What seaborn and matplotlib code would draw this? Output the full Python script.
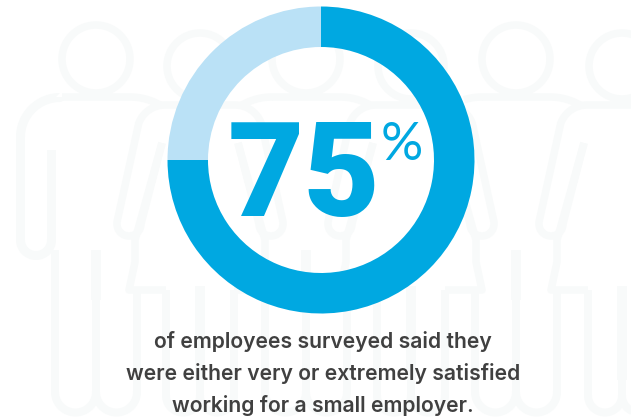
import numpy as np
import seaborn as sns
import matplotlib
matplotlib.use("Agg")
import matplotlib.pyplot as plt

satisfied_share = [75, 25]
ring_colors = ["#00a8e1", "#bae1f6"]
headline = "75"
headline_unit = "%"
caption_lines = [
    "of employees surveyed said they",
    "were either very or extremely satisfied",
    "working for a small employer.",
]
male_x = [96, 306, 516]
female_x = [200, 411, 622]
male_left_shoulder = [None, 32, 18]

WIDTH, HEIGHT = 631, 419
FIGURE_INK = "#f8fafa"
TEXT_INK = "#404040"
FOOT_LINE = 412.5

sns.set_theme(style="white")
fig, ax = plt.subplots(figsize=(WIDTH / 100, HEIGHT / 100), dpi=100)
fig.subplots_adjust(0, 0, 1, 1)


def arc(cx, cy, r, start, stop, n=40):
    t = np.radians(np.linspace(start, stop, n))
    return np.column_stack([cx + r * np.cos(t), cy + r * np.sin(t)])


def stroke(points, lw=7.5):
    pts = np.vstack([np.atleast_2d(p) for p in points])
    ax.plot(pts[:, 0], HEIGHT - pts[:, 1], color=FIGURE_INK,
            lw=lw * 0.72, solid_capstyle="butt", solid_joinstyle="round", zorder=1)


def leg_pair(left, right, top_left, top_right):
    # two leg lines closing in a rounded foot
    r = (right - left) / 2
    stroke([[left, top_left], arc(left + r, FOOT_LINE - r, r, 180, 0), [right, top_right]], lw=8)


def draw_male(x, left_reach):
    stroke([arc(x, 59, 34, 0, 360, 90)])
    # shoulders run from the right arm across to the left one
    right_sweep = np.degrees(np.arcsin(31 / 60))
    stroke([arc(x + 34, 157, 60, -90 + right_sweep, -90), [x - 34, 97]])
    if left_reach is None:
        stroke([[x - 36, 97], arc(x - 36, 137, 39.5, -90, -180),
                [x - 75.5, 240], arc(x - 60, 240, 15.5, 180, 0), [x - 44.5, 150]], lw=9)
        leg_pair(x - 41, x, 250, 250)
    else:
        left_sweep = np.degrees(np.arcsin(left_reach / 60))
        stroke([arc(x - 34, 157, 60, -90, -90 - left_sweep)])
        leg_pair(x - 41, x, 292, 250)
    leg_pair(x, x + 41, 250, 292)
    stroke([[x, 250], [x, 300]], lw=10)


def draw_female(x):
    stroke([arc(x, 66, 33, 0, 360, 90)])
    for side in (-1, 1):
        shoulder = arc(x + side * 35, 133, 28, -90, -90 + side * 70)
        stroke([[x, 105], shoulder, [x + side * 83, 222],
                arc(x + side * 71, 224, 12, 0 if side > 0 else 180, 180 if side > 0 else 0),
                [x + side * 38, 143]])
        stroke([[x + side * 38, 143], [x + side * 65, 240], [x + side * 65, 262],
                [x + side * 71, 290], [x + side * 34, 290]])
    leg_pair(x - 34, x, 290, 286)
    leg_pair(x, x + 34, 286, 290)
    stroke([[x, 286], [x, 380]], lw=10)


for x, left_reach in zip(male_x, male_left_shoulder):
    draw_male(x, left_reach)
for x in female_x:
    draw_female(x)

ax.pie(
    satisfied_share,
    colors=ring_colors,
    startangle=90,
    counterclock=False,
    radius=153.5,
    center=(321, HEIGHT - 160),
    wedgeprops={"width": 40.5, "linewidth": 0},
    frame=False,
)
ax.set_xlim(0, WIDTH)
ax.set_ylim(0, HEIGHT)
ax.set_axis_off()

ax.text(304, HEIGHT - 216, headline, ha="center", va="baseline", color=ring_colors[0],
        family="Roboto", weight="black", fontsize=95, zorder=5)
ax.text(402, HEIGHT - 160, headline_unit, ha="center", va="baseline", color=ring_colors[0],
        family="Lato", weight="regular", fontsize=38, zorder=5)

for line, baseline in zip(caption_lines, [348, 380, 412]):
    ax.text(323, HEIGHT - baseline, line, ha="center", va="baseline", color=TEXT_INK,
            family="Inter", weight="semibold", fontsize=15.2, zorder=5)

fig.savefig("out.png", dpi=100, facecolor="white")
